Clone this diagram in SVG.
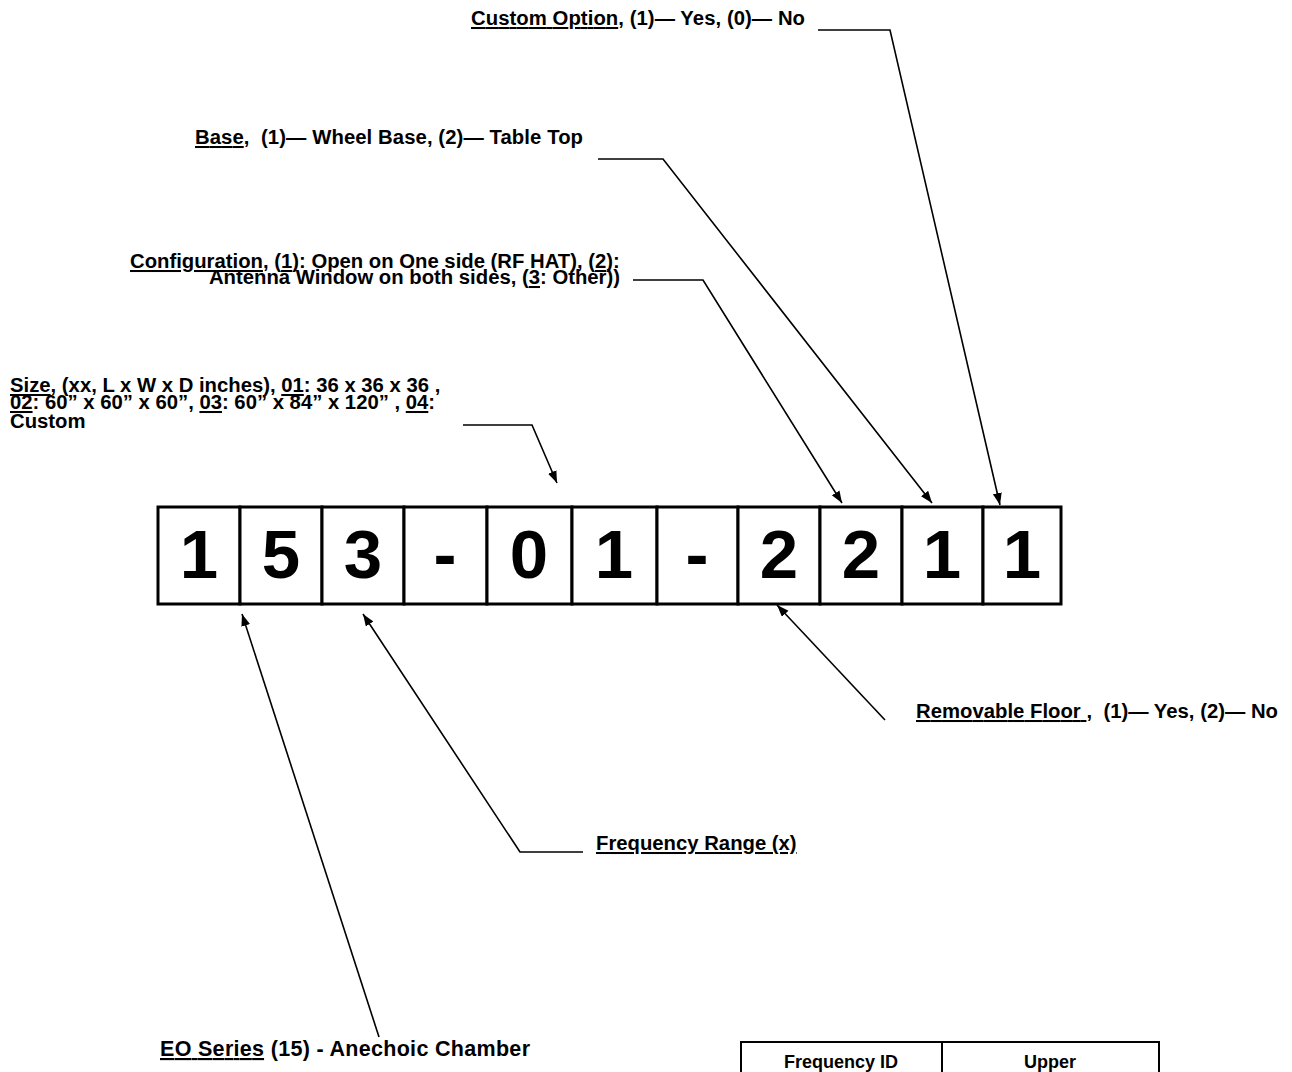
<svg xmlns="http://www.w3.org/2000/svg" width="1292" height="1072" viewBox="0 0 1292 1072">
<style>
.lbl{font-family:"Liberation Sans",Arial,sans-serif;font-weight:bold;font-size:20.3px;fill:#000;white-space:pre}
.u{text-decoration:underline}
.dig{font-family:"Liberation Sans",Arial,sans-serif;font-weight:bold;font-size:69px;fill:#000;text-anchor:middle}
.cell{fill:#fff;stroke:#000;stroke-width:3}
.conn{fill:none;stroke:#000;stroke-width:1.6}
.tbl{fill:none;stroke:#000;stroke-width:2}
.th{font-family:"Liberation Sans",Arial,sans-serif;font-weight:bold;font-size:18px;fill:#000;text-anchor:middle}
</style>
<defs>
<marker id="arr" markerUnits="userSpaceOnUse" markerWidth="13" markerHeight="10" refX="12" refY="4.5" orient="auto">
<path d="M0,0 L12,4.5 L0,9 Z" fill="#000"/>
</marker>
</defs>
<rect width="1292" height="1072" fill="#fff"/>

<g id="code">
<rect class="cell" x="158" y="507" width="82" height="97"/>
<rect class="cell" x="240" y="507" width="82" height="97"/>
<rect class="cell" x="322" y="507" width="82" height="97"/>
<rect class="cell" x="404" y="507" width="83" height="97"/>
<rect class="cell" x="487" y="507" width="85" height="97"/>
<rect class="cell" x="572" y="507" width="85" height="97"/>
<rect class="cell" x="657" y="507" width="81" height="97"/>
<rect class="cell" x="738" y="507" width="82" height="97"/>
<rect class="cell" x="820" y="507" width="82" height="97"/>
<rect class="cell" x="902" y="507" width="81" height="97"/>
<rect class="cell" x="983" y="507" width="78" height="97"/>
<text class="dig" x="199" y="578">1</text>
<text class="dig" x="281" y="578">5</text>
<text class="dig" x="363" y="578">3</text>
<text class="dig" x="445" y="578">-</text>
<text class="dig" x="529" y="578">0</text>
<text class="dig" x="614" y="578">1</text>
<text class="dig" x="697" y="578">-</text>
<text class="dig" x="779" y="578">2</text>
<text class="dig" x="861" y="578">2</text>
<text class="dig" x="942" y="578">1</text>
<text class="dig" x="1022" y="578">1</text>
</g>

<g id="custom-option">
<text class="lbl" x="471" y="25" textLength="334" lengthAdjust="spacing"><tspan class="u">Custom Option</tspan>, (1)— Yes, (0)— No</text>
</g>
<g id="base">
<text class="lbl" x="195" y="144" textLength="388" lengthAdjust="spacing"><tspan class="u">Base</tspan>,  (1)— Wheel Base, (2)— Table Top</text>
</g>
<g id="configuration">
<text class="lbl" x="130" y="268"><tspan class="u">Configuration</tspan>, (<tspan class="u">1</tspan>): Open on One side (RF HAT), (<tspan class="u">2</tspan>):</text>
<text class="lbl" x="620" y="284" text-anchor="end">Antenna Window on both sides, (<tspan class="u">3</tspan>: Other))</text>
</g>
<g id="size">
<text class="lbl" x="10" y="392"><tspan class="u">Size</tspan>, (xx, L x W x D inches), <tspan class="u">01</tspan>: 36 x 36 x 36 ,</text>
<text class="lbl" x="10" y="409"><tspan class="u">02</tspan>: 60” x 60” x 60”, <tspan class="u">03</tspan>: 60” x 84” x 120” , <tspan class="u">04</tspan>:</text>
<text class="lbl" x="10" y="428">Custom</text>
</g>
<g id="removable-floor">
<text class="lbl" x="916" y="718" textLength="362" lengthAdjust="spacing"><tspan class="u">Removable Floor </tspan>,  (1)— Yes, (2)— No</text>
</g>
<g id="frequency-range">
<text class="lbl" x="596" y="850"><tspan class="u">Frequency Range (x)</tspan></text>
</g>
<g id="eo-series">
<text class="lbl" x="160" y="1056" style="font-size:21.5px" textLength="370" lengthAdjust="spacing"><tspan class="u">EO Series</tspan> (15) - Anechoic Chamber</text>
</g>
<g id="freq-table">
<path class="tbl" d="M741,1080 V1042 H1159 V1080 M942,1042 V1080"/>
<text class="th" x="841" y="1068">Frequency ID</text>
<text class="th" x="1050" y="1068">Upper</text>
</g>

<g id="connectors">
<polyline class="conn" points="818,30 890,30 1000,505" marker-end="url(#arr)"/>
<polyline class="conn" points="598,159 663,159 932,503" marker-end="url(#arr)"/>
<polyline class="conn" points="633,280 703,280 842,503" marker-end="url(#arr)"/>
<polyline class="conn" points="463,425 532,425 557,483" marker-end="url(#arr)"/>
<polyline class="conn" points="885,720 777,605" marker-end="url(#arr)"/>
<polyline class="conn" points="583,852 520,852 363,614" marker-end="url(#arr)"/>
<polyline class="conn" points="379,1037 242,614" marker-end="url(#arr)"/>
</g>
</svg>
